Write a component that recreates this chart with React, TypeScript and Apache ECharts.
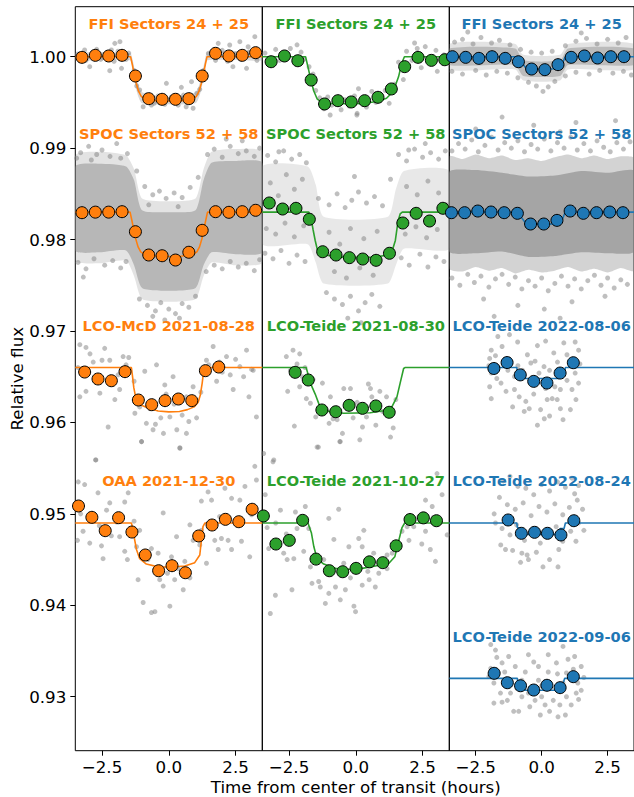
import React, { useEffect, useRef } from "react";
import * as echarts from "echarts";

// ---------------- colours ----------------
const ORANGE = "#ff7f0e";
const GREEN = "#2ca02c";
const BLUE = "#1f77b4";

// ---------------- axes ----------------
const yTicks = [0.93, 0.94, 0.95, 0.96, 0.97, 0.98, 0.99, 1.0];
const xTicks = [-2.5, 0, 2.5];
const yRange = [0.924095, 1.005469];
const xRange = [-3.5, 3.5];

// ---------------- titles ----------------
const titlesCol1 = ["FFI Sectors 24 + 25", "SPOC Sectors 52 + 58", "LCO-McD 2021-08-28", "OAA 2021-12-30"];
const titlesCol2 = ["FFI Sectors 24 + 25", "SPOC Sectors 52 + 58", "LCO-Teide 2021-08-30", "LCO-Teide 2021-10-27"];
const titlesCol3 = ["FFI Sectors 24 + 25", "SPOC Sectors 52 + 58", "LCO-Teide 2022-08-06", "LCO-Teide 2022-08-24", "LCO-Teide 2022-09-06"];
const titleFlux = [1.0036, 0.99158, 0.97058, 0.95366, 0.9366];

// ---------------- binned points ----------------
const orangeFfiBinned = [[-3.25,0.99993],[-2.75,1.00015],[-2.25,1.00008],[-1.75,1.00015],[-1.25,0.99789],[-0.75,0.99541],[-0.25,0.99534],[0.25,0.99534],[0.75,0.99541],[1.25,0.99789],[1.75,1.00037],[2.25,1.00008],[2.75,1.00015],[3.25,1.00044]];
const orangeSpocBinned = [[-3.25,0.98294],[-2.75,0.983],[-2.25,0.983],[-1.75,0.98305],[-1.25,0.98086],[-0.75,0.97831],[-0.25,0.97823],[0.25,0.97776],[0.75,0.97861],[1.25,0.98101],[1.75,0.98305],[2.25,0.98298],[2.75,0.98305],[3.25,0.9832]];
const orangeMcdBinned = [[-3.15,0.96551],[-2.65,0.96475],[-2.15,0.96456],[-1.64,0.96555],[-1.14,0.96245],[-0.64,0.96194],[-0.14,0.96238],[0.36,0.96256],[0.86,0.96238],[1.37,0.96566],[1.87,0.96606]];
const orangeOaaBinned = [[-3.38,0.95086],[-2.88,0.94962],[-2.38,0.94816],[-1.88,0.94958],[-1.38,0.94801],[-0.88,0.9455],[-0.38,0.94378],[0.12,0.94433],[0.62,0.94356],[1.12,0.94758],[1.62,0.94878],[2.12,0.9494],[2.62,0.94914],[3.12,0.9505]];

const greenFfiBinned = [[-3.17,0.99945],[-2.67,1.00008],[-2.17,0.99956],[-1.67,0.99745],[-1.17,0.99483],[-0.67,0.99519],[-0.17,0.99505],[0.33,0.99519],[0.83,0.99556],[1.33,0.99647],[1.83,0.99891],[2.33,0.99993],[2.83,0.9996],[3.33,0.99967]];
const greenSpocBinned = [[-3.24,0.984],[-2.74,0.98334],[-2.24,0.98342],[-1.74,0.98222],[-1.24,0.97867],[-0.74,0.97831],[-0.24,0.97802],[0.26,0.97787],[0.76,0.97773],[1.26,0.9785],[1.76,0.98181],[2.26,0.98287],[2.76,0.98203],[3.26,0.98342]];
const greenTeide1Binned = [[-2.27,0.96548],[-1.78,0.96464],[-1.27,0.96136],[-0.75,0.96117],[-0.25,0.96187],[0.25,0.96154],[0.75,0.9618],[1.25,0.96111]];
const greenTeide2Binned = [[-3.46,0.94977],[-2.99,0.9467],[-2.49,0.9471],[-1.99,0.94929],[-1.49,0.94505],[-0.99,0.94378],[-0.49,0.94367],[0.01,0.94404],[0.51,0.94475],[1.01,0.94466],[1.51,0.9465],[2.03,0.94938],[2.53,0.94956],[3.02,0.94925]];

const blueFfiBinned = [[-3.38,1.0],[-2.88,0.99993],[-2.38,0.99982],[-1.88,1.0],[-1.38,0.99982],[-0.88,0.99945],[-0.38,0.99865],[0.12,0.99858],[0.62,0.99913],[1.12,0.99993],[1.62,1.00008],[2.12,0.99986],[2.62,1.0],[3.12,1.0]];
const blueSpocBinned = [[-3.42,0.98294],[-2.92,0.98294],[-2.42,0.98312],[-1.92,0.98301],[-1.42,0.98294],[-0.92,0.98287],[-0.42,0.9817],[0.08,0.9817],[0.58,0.9821],[1.08,0.98312],[1.58,0.98287],[2.08,0.98294],[2.58,0.98301],[3.08,0.98294]];
const blueTeide1Binned = [[-1.81,0.9659],[-1.31,0.96655],[-0.81,0.9652],[-0.3,0.96449],[0.2,0.96431],[0.7,0.9654],[1.2,0.96653]];
const blueTeide2Binned = [[-1.27,0.94933],[-0.77,0.94787],[-0.27,0.94798],[0.22,0.94787],[0.73,0.94769],[1.22,0.94925]];
const blueTeide3Binned = [[-1.8,0.93256],[-1.3,0.93153],[-0.8,0.9312],[-0.3,0.93073],[0.2,0.93125],[0.7,0.93099],[1.2,0.93219]];

// ---------------- transit models ----------------
const orangeFfiModel = [[-3.5,1.0],[-1.43,1.0],[-1.37,0.9992],[-1.3,0.9982],[-1.22,0.9971],[-1.13,0.9962],[-1.03,0.99565],[-0.9,0.99535],[-0.5,0.9952],[0,0.99515],[0.5,0.9952],[0.9,0.99535],[1.03,0.99565],[1.13,0.9962],[1.22,0.9971],[1.3,0.9982],[1.37,0.9992],[1.43,1.0],[3.5,1.0]];
const orangeSpocModel = [[-3.5,0.983],[-1.45,0.983],[-1.39,0.9822],[-1.32,0.9812],[-1.24,0.9801],[-1.15,0.9792],[-1.05,0.97865],[-0.9,0.97835],[-0.5,0.9782],[0,0.97815],[0.5,0.9782],[0.9,0.97835],[1.05,0.97865],[1.15,0.9792],[1.24,0.9801],[1.32,0.9812],[1.39,0.9822],[1.45,0.983],[3.5,0.983]];
const orangeMcdModel = [[-3.5,0.966],[-1.4,0.966],[-1.36,0.9651],[-1.31,0.9638],[-1.25,0.9629],[-1.15,0.9622],[-1.0,0.96185],[-0.8,0.9616],[-0.4,0.96125],[0,0.96115],[0.4,0.9612],[0.7,0.9614],[0.95,0.9617],[1.1,0.9622],[1.18,0.963],[1.25,0.9643],[1.3,0.9655],[1.34,0.966],[3.5,0.966]];
const orangeOaaModel = [[-3.5,0.949],[-1.4,0.949],[-1.35,0.9484],[-1.3,0.9475],[-1.21,0.9461],[-1.09,0.9451],[-0.84,0.94451],[-0.4,0.9442],[0.1,0.94418],[0.6,0.9443],[0.97,0.94466],[1.16,0.9455],[1.22,0.9471],[1.28,0.9486],[1.35,0.949],[3.5,0.949]];

const greenFfiModel = [[-3.5,1.0],[-1.88,1.0],[-1.8,0.999],[-1.7,0.9977],[-1.58,0.9963],[-1.45,0.9954],[-1.3,0.99505],[-1.0,0.9949],[-0.2,0.99485],[0.3,0.9949],[0.8,0.9951],[1.15,0.99545],[1.4,0.9962],[1.6,0.9978],[1.72,0.9993],[1.82,1.0],[3.5,1.0]];
const greenSpocModel = [[-3.5,0.983],[-1.76,0.983],[-1.68,0.9824],[-1.6,0.9811],[-1.52,0.9799],[-1.44,0.9789],[-1.3,0.97835],[-0.4,0.97805],[0.6,0.97805],[1.1,0.97825],[1.35,0.97865],[1.48,0.9799],[1.58,0.982],[1.66,0.9828],[1.74,0.983],[3.5,0.983]];
const greenTeide1Model = [[-3.5,0.966],[-1.86,0.966],[-1.78,0.9652],[-1.7,0.9643],[-1.52,0.9631],[-1.34,0.9617],[-1.0,0.9612],[-0.46,0.961],[0.54,0.96105],[1.03,0.96128],[1.35,0.9617],[1.54,0.9628],[1.66,0.9643],[1.79,0.9659],[1.84,0.966],[3.5,0.966]];
const greenTeide2Model = [[-3.5,0.949],[-1.79,0.949],[-1.72,0.9484],[-1.66,0.9479],[-1.57,0.9464],[-1.45,0.9451],[-1.2,0.94451],[-0.76,0.94404],[-0.26,0.94394],[0.24,0.94404],[0.73,0.9443],[1.24,0.94459],[1.46,0.9453],[1.61,0.9471],[1.73,0.9485],[1.83,0.949],[3.5,0.949]];

const blueFfiModel = [[-3.5,1.0],[-0.95,1.0],[-0.85,0.9998],[-0.75,0.99935],[-0.62,0.99885],[-0.5,0.99868],[0,0.99862],[0.55,0.99868],[0.7,0.9989],[0.8,0.99935],[0.88,0.9999],[0.92,1.0],[3.5,1.0]];
const blueSpocModel = [[-3.5,0.983],[-0.95,0.983],[-0.85,0.9828],[-0.75,0.98235],[-0.62,0.98185],[-0.5,0.98172],[0,0.98168],[0.55,0.98172],[0.7,0.9819],[0.8,0.98235],[0.88,0.9829],[0.92,0.983],[3.5,0.983]];
const blueTeide1Model = [[-3.5,0.966],[-0.94,0.966],[-0.92,0.9655],[-0.78,0.9654],[-0.62,0.9648],[0.65,0.9648],[0.7,0.9654],[0.85,0.9654],[0.9,0.966],[3.5,0.966]];
const blueTeide2Model = [[-3.5,0.949],[-0.94,0.949],[-0.92,0.9485],[-0.78,0.9484],[-0.62,0.94775],[0.65,0.94775],[0.7,0.9484],[0.85,0.9484],[0.9,0.949],[3.5,0.949]];
const blueTeide3Model = [[-3.5,0.932],[-0.92,0.932],[-0.9,0.93145],[-0.7,0.93145],[-0.64,0.9307],[0.55,0.9307],[0.62,0.9313],[0.8,0.9313],[0.87,0.932],[3.5,0.932]];

// ---------------- dense clouds of raw points: [time, lower, upper] envelopes ----------------
const orangeFfiCloud = [[-3.5,0.9996,1.0004],[-1.45,0.9996,1.0004],[-1.35,0.9985,0.9996],[-1.2,0.9962,0.9976],[-1.0,0.9949,0.9961],[0,0.9948,0.9956],[1.0,0.9949,0.9961],[1.2,0.9962,0.9976],[1.35,0.9985,0.9996],[1.45,0.9996,1.0005],[3.5,0.9996,1.0005]];
const orangeSpocCore = [[-3.5,0.9788,0.988],[-2.6,0.9786,0.9883],[-1.6,0.9788,0.988],[-1.3,0.9772,0.9865],[-1.0,0.9747,0.9832],[0,0.9744,0.983],[1.0,0.9747,0.9832],[1.3,0.9772,0.9865],[1.6,0.9786,0.9884],[2.5,0.9784,0.9886],[3.5,0.9786,0.9884]];
const orangeSpocHalo = [[-3.5,0.9777,0.9892],[-2.6,0.9774,0.9896],[-1.6,0.9777,0.9892],[-1.3,0.976,0.9877],[-1.0,0.9735,0.9845],[0,0.9732,0.9842],[1.0,0.9735,0.9845],[1.3,0.976,0.9877],[1.6,0.9775,0.9896],[2.5,0.9772,0.9899],[3.5,0.9775,0.9896]];
const greenSpocCloud = [[-3.5,0.9795,0.988],[-1.8,0.9795,0.988],[-1.5,0.9775,0.986],[-1.2,0.9752,0.9825],[1.2,0.9752,0.9825],[1.5,0.9772,0.9855],[1.8,0.979,0.9875],[3.5,0.979,0.9875]];
const blueFfiCore = [[-3.5,0.9991,1.0009],[-1.0,0.9991,1.0009],[-0.7,0.9979,0.9996],[0.7,0.9979,0.9996],[1.0,0.9991,1.0009],[3.5,0.9991,1.0009]];
const blueFfiHalo = [[-3.5,0.9986,1.0014],[-1.0,0.9986,1.0014],[-0.7,0.9974,1.0002],[0.7,0.9974,1.0002],[1.0,0.9986,1.0014],[3.5,0.9986,1.0014]];
const blueSpocCore = [[-3.5,0.9787,0.9874],[-2.5,0.9785,0.9876],[-1.5,0.9787,0.9873],[-0.5,0.9781,0.9869],[0.5,0.9782,0.987],[1.5,0.9786,0.9875],[2.5,0.9785,0.9873],[3.5,0.9787,0.9875]];
const blueSpocHalo = [[-3.5,0.9768,0.9891],[-3.0,0.9765,0.9888],[-2.5,0.977,0.9893],[-2.0,0.9766,0.9889],[-1.5,0.9769,0.9892],[-1.0,0.9763,0.9887],[-0.5,0.9767,0.9889],[0,0.9764,0.9886],[0.5,0.9766,0.989],[1.0,0.977,0.9893],[1.5,0.9765,0.9889],[2.0,0.9768,0.9892],[2.5,0.9764,0.9888],[3.0,0.9769,0.9891],[3.5,0.9766,0.9889]];

// ---------------- scattered raw points ----------------
const orangeFfiRaw = [[-1.83,1.00164],[-2.02,1.00146],[-2.15,1.00073],[-2.7,1.0008],[-3.15,1.00073],[-2.21,0.99847],[-1.77,0.99873],[-2.96,0.99891],[3.22,1.00219],[2.66,1.00164],[1.85,1.00146],[2.28,1.00128],[2.97,1.00109],[1.48,1.00037],[2.91,0.99873],[2.4,0.99891],[0.85,0.99727],[-0.96,0.99453],[0.91,0.99436],[0.65,0.99453],[-0.65,0.99472],[-0.09,0.99709],[0.47,0.99665],[-1.09,0.99636],[1.16,0.99643],[-3.4,1.0003],[-3.1,0.9996],[-2.85,1.0005],[-2.55,0.9997],[-2.35,1.0004],[-2.05,0.9995],[-1.9,1.0006],[-1.6,0.9997],[-1.5,1.0004],[-1.3,0.9985],[-1.2,0.9968],[-0.85,0.9958],[-0.55,0.9949],[-0.4,0.9957],[-0.15,0.9948],[0.1,0.9956],[0.35,0.9947],[0.55,0.9958],[0.8,0.995],[1.05,0.996],[1.3,0.9985],[1.6,1.0004],[1.75,0.9996],[2.0,1.0007],[2.2,0.9995],[2.5,1.0003],[2.7,0.9997],[3.0,1.0005],[3.3,0.9996]];
const orangeSpocRaw = [[-3.3,0.9895],[-3.0,0.9902],[-2.7,0.9893],[-2.5,0.9898],[-2.2,0.9891],[-1.95,0.9905],[-1.8,0.9889],[-1.55,0.9894],[-3.45,0.9889],[-2.9,0.9887],[-1.2,0.9875],[-0.9,0.9858],[-0.6,0.9849],[-0.35,0.9853],[-0.1,0.9845],[0.2,0.9851],[0.5,0.9846],[0.8,0.9857],[1.1,0.9868],[-0.75,0.9838],[0.35,0.9836],[1.45,0.9893],[1.7,0.9899],[2.0,0.989],[2.3,0.9902],[2.6,0.9894],[2.9,0.9897],[3.2,0.9891],[3.4,0.99],[2.15,0.991],[2.75,0.9908],[-3.4,0.9775],[-3.1,0.9768],[-2.8,0.9779],[-2.4,0.9772],[-2.1,0.9777],[-1.8,0.9769],[-1.6,0.9776],[-3.2,0.9759],[-1.1,0.9735],[-0.8,0.9728],[-0.5,0.9722],[-0.3,0.9731],[0,0.9724],[0.25,0.9719],[0.5,0.973],[0.75,0.9726],[1.0,0.9738],[-0.15,0.9712],[0.4,0.9714],[-0.6,0.9716],[1.4,0.9765],[1.7,0.9772],[2.0,0.9768],[2.3,0.9776],[2.6,0.977],[2.9,0.9774],[3.2,0.9766],[3.4,0.9778]];
const orangeMcdRaw = [[-3.33,0.9685],[-3.1,0.9682],[-3.33,0.9628],[-3.1,0.9634],[-2.83,0.9666],[-2.58,0.9632],[-2.4,0.9681],[-2.27,0.9595],[-2.73,0.9559],[-2.21,0.9668],[-2.02,0.9625],[-1.84,0.9636],[-1.71,0.9672],[-1.27,0.961],[-1.09,0.9617],[-1.02,0.9579],[-0.84,0.9599],[-0.59,0.9592],[-0.46,0.9663],[-0.15,0.9641],[0.16,0.965],[0.04,0.9606],[0.41,0.9572],[0.66,0.9628],[0.66,0.9588],[1.04,0.9605],[0.91,0.9639],[1.41,0.9668],[1.66,0.9683],[1.79,0.9645],[2.16,0.9672],[2.41,0.9636],[2.66,0.9661],[2.91,0.9679],[3.16,0.9657],[3.28,0.9606],[3.0,0.9628],[1.3,0.9655],[-0.9,0.9656],[-3.0,0.9655],[-2.5,0.9668],[-1.9,0.9652],[-1.6,0.9663],[-1.3,0.9645],[-0.7,0.9615],[-0.3,0.9605],[0.2,0.962],[0.5,0.9608],[0.9,0.9624],[1.5,0.9663],[2.0,0.9655],[2.5,0.9669],[3.1,0.9658],[-2.2,0.9645],[2.8,0.965],[-0.1,0.9631],[0.3,0.9592],[-0.5,0.9598],[-3.4,0.966],[-2.95,0.9675],[-1.5,0.9671],[1.9,0.9666],[2.3,0.9652],[-0.2,0.9588],[0.75,0.9601],[1.2,0.9633]];
const orangeOaaRaw = [[-1.02,0.9579],[0.42,0.9572],[-2.74,0.9559],[-3.39,0.9535],[-3.15,0.9532],[-2.65,0.9523],[-2.21,0.9512],[-2.33,0.9504],[-1.65,0.9513],[-1.52,0.9523],[-3.21,0.9481],[-2.96,0.9468],[-2.52,0.9465],[-2.15,0.9476],[-1.84,0.9475],[-3.42,0.9471],[-2.46,0.9451],[-1.65,0.9459],[-1.55,0.945],[-1.09,0.9482],[-1.21,0.9464],[-0.78,0.945],[-0.52,0.9439],[-1.15,0.9428],[-0.34,0.9428],[-0.21,0.9421],[-0.52,0.9393],[-0.65,0.9392],[-0.96,0.9403],[0.04,0.9399],[0.54,0.9417],[0.79,0.943],[0.22,0.9428],[-0.21,0.9501],[-0.4,0.9457],[0.1,0.9453],[0.29,0.9475],[0.79,0.9488],[0.91,0.9471],[1.16,0.9466],[1.41,0.9446],[1.22,0.9514],[1.47,0.9524],[1.6,0.9515],[1.72,0.9471],[1.97,0.9473],[2.22,0.9471],[2.35,0.9517],[2.66,0.9515],[2.85,0.953],[3.22,0.9552],[3.03,0.9453],[2.72,0.947],[3.28,0.9537],[1.85,0.9461],[2.35,0.9461],[1.22,0.9482],[2.1,0.9528],[-2.9,0.9495],[-2.6,0.9487],[-1.95,0.9491],[-1.3,0.9492],[-0.65,0.9462],[0.6,0.9448],[1.9,0.9497],[2.5,0.9492],[3.1,0.9499],[-3.3,0.95],[-0.05,0.9435],[0.35,0.944]];

const greenFfiRaw = [[-3.4,1.0004],[-3.2,0.9993],[-3.0,1.0008],[-2.85,0.9996],[-2.6,1.0002],[-2.45,1.0009],[-2.3,0.9994],[-2.05,1.0005],[-1.95,0.9997],[-1.75,0.9989],[-1.6,0.9981],[-1.5,0.9963],[-1.35,0.9955],[-1.2,0.9943],[-1.05,0.9956],[-0.9,0.9947],[-0.7,0.9955],[-0.55,0.9942],[-0.4,0.9953],[-0.25,0.9946],[-0.05,0.9957],[0.1,0.9965],[0.05,0.9938],[0.25,0.9952],[0.4,0.9945],[0.6,0.9962],[0.75,0.995],[0.95,0.9958],[1.1,0.9963],[1.25,0.9949],[1.45,0.997],[1.6,0.9994],[1.78,0.9975],[1.9,1.0006],[2.1,0.9996],[2.3,1.0009],[2.45,0.9988],[2.6,1.0011],[2.8,0.9998],[3.0,1.0007],[3.05,0.9984],[3.3,1.0002],[2.2,1.0015],[-2.2,1.0013],[-0.96,0.99362],[0.04,0.99362]];
const greenSpocRaw = [[-3.3,0.9892],[-3.0,0.9885],[-2.7,0.9897],[-2.4,0.9888],[-2.1,0.9893],[-1.85,0.9884],[-3.4,0.9785],[-3.1,0.9779],[-2.8,0.9788],[-2.5,0.9774],[-2.2,0.9783],[-1.9,0.9776],[-1.4,0.9845],[-1.0,0.9838],[-0.7,0.985],[-0.4,0.9835],[-0.15,0.9843],[0.1,0.9852],[0.4,0.984],[0.7,0.9847],[1.0,0.9837],[1.3,0.9866],[-1.1,0.9742],[-0.8,0.9735],[-0.5,0.9729],[-0.2,0.9738],[0.1,0.9722],[0.35,0.9731],[0.6,0.974],[0.9,0.9727],[-0.3,0.9714],[0.2,0.9709],[1.6,0.9893],[1.9,0.9886],[2.2,0.9899],[2.5,0.989],[2.8,0.9895],[3.1,0.9888],[3.35,0.9897],[1.7,0.978],[2.0,0.9772],[2.4,0.9784],[2.7,0.977],[3.0,0.9781],[3.3,0.9776],[2.6,0.9905],[-0.05,0.9869],[-2.88,0.9896],[1.98,0.9898],[-3.2,0.9862],[-2.9,0.9848],[-2.6,0.9871],[-2.3,0.9855],[-2.0,0.9866],[-3.35,0.9812],[-3.0,0.9806],[-2.65,0.9818],[-2.3,0.9803],[-1.95,0.9815],[-1.0,0.9808],[-0.6,0.9795],[-0.2,0.9812],[0.3,0.9801],[0.8,0.9809],[-0.8,0.9765],[-0.35,0.9758],[0.15,0.9769],[0.65,0.9761],[1.9,0.9858],[2.3,0.9849],[2.7,0.9864],[3.1,0.9851],[1.85,0.9806],[2.25,0.9814],[2.65,0.9802],[3.05,0.9811],[3.4,0.9838]];
const greenTeide1Raw = [[-2.6,0.9672],[-2.45,0.9657],[-2.35,0.9679],[-2.2,0.9664],[-2.1,0.9675],[-2.0,0.965],[-1.9,0.966],[-2.55,0.9634],[-2.1,0.9639],[-1.85,0.9626],[-1.7,0.9621],[-1.6,0.9647],[-1.5,0.9606],[-1.4,0.9573],[-1.25,0.9643],[-1.1,0.9614],[-0.95,0.9628],[-0.85,0.9604],[-0.7,0.9603],[-0.6,0.9579],[-0.5,0.9588],[-0.35,0.9617],[-0.2,0.9637],[-0.1,0.9605],[0.05,0.9622],[0.15,0.9581],[0.3,0.9612],[0.4,0.9606],[0.47,0.9642],[0.6,0.9628],[0.75,0.9597],[0.9,0.9634],[1.0,0.9612],[1.15,0.9628],[1.3,0.9584],[1.4,0.9594],[1.5,0.9625],[-3.45,0.9566],[-3.1,0.9557],[-2.3,0.9596],[-0.45,0.9637],[0.55,0.9637],[-1.0,0.9599],[0.25,0.9595]];
const greenTeide2Raw = [[-1.45,0.9573],[-0.58,0.9579],[-3.07,0.9559],[-3.39,0.9521],[-1.89,0.9508],[-2.26,0.9502],[-2.82,0.9504],[-0.64,0.9505],[-3.32,0.9485],[-3.26,0.9462],[-2.7,0.9457],[-2.57,0.945],[-2.32,0.9451],[-2.2,0.9484],[-1.95,0.9459],[-1.76,0.9484],[-1.01,0.9495],[-0.82,0.9472],[-3.01,0.9411],[-3.2,0.9391],[-2.39,0.9417],[-1.64,0.9424],[-1.33,0.942],[-1.14,0.9402],[-1.01,0.9413],[-0.76,0.942],[-0.58,0.9406],[-0.39,0.9417],[-0.07,0.9399],[-0.01,0.9393],[-0.26,0.9464],[0.24,0.9464],[0.11,0.9473],[0.3,0.9482],[0.67,0.9457],[0.24,0.9422],[0.73,0.942],[0.86,0.9435],[1.17,0.944],[1.17,0.9455],[1.36,0.9457],[1.73,0.9481],[1.92,0.9486],[1.99,0.9471],[2.17,0.9486],[2.36,0.9497],[2.61,0.9515],[2.86,0.9508],[3.04,0.9544],[3.23,0.9521],[2.61,0.9481],[2.79,0.9461],[2.98,0.9448],[2.47,0.9467],[3.42,0.9477],[2.9,0.9496],[-1.39,0.9426],[-3.0,0.949],[-2.6,0.9478],[-1.2,0.945],[-0.9,0.9436],[-0.45,0.9446],[0.45,0.9437],[0.95,0.9448],[1.5,0.9463],[-1.7,0.9442],[-0.2,0.943],[0.5,0.9428]];

const blueFfiRaw = [[-3.3,1.0016],[-3.0,1.0019],[-2.6,1.0014],[-2.3,1.0021],[-1.9,1.0015],[-1.6,1.0018],[-1.2,1.0013],[-0.8,1.0008],[-0.4,1.0005],[0,1.0004],[0.4,1.0006],[0.9,1.0012],[1.3,1.0017],[1.7,1.002],[2.1,1.0014],[2.5,1.0019],[2.9,1.0015],[3.2,1.0021],[-2.8,1.0027],[1.5,1.0026],[-3.4,0.9984],[-3.0,0.9981],[-2.5,0.9985],[-2.1,0.998],[-1.7,0.9984],[-1.3,0.9982],[-0.9,0.9977],[-0.5,0.9972],[-0.2,0.9968],[0.25,0.9967],[0.5,0.9973],[0.9,0.9979],[1.3,0.9983],[1.8,0.9981],[2.2,0.9985],[2.7,0.9982],[3.1,0.9984],[3.4,0.998],[0.05,0.9962]];
const blueSpocRaw = [[-3.4,0.9897],[-3.15,0.9905],[-2.9,0.9899],[-2.65,0.9909],[-2.4,0.9896],[-2.15,0.9903],[-1.9,0.9912],[-1.65,0.9898],[-1.4,0.9906],[-1.15,0.99],[-0.9,0.9908],[-0.65,0.9896],[-0.4,0.9904],[-0.15,0.9899],[0.1,0.991],[0.35,0.9897],[0.6,0.9906],[0.85,0.99],[1.1,0.9912],[1.35,0.9898],[1.6,0.9905],[1.85,0.9897],[2.1,0.9908],[2.35,0.9901],[2.6,0.9896],[2.85,0.9906],[3.1,0.9899],[3.35,0.9907],[-2.5,0.9921],[-0.3,0.9925],[1.3,0.9928],[2.8,0.993],[-1.5,0.9934],[0.7,0.9918],[-3.4,0.9758],[-3.1,0.975],[-2.8,0.9762],[-2.55,0.9753],[-2.3,0.976],[-2.0,0.9748],[-1.75,0.9757],[-1.5,0.9762],[-1.25,0.9751],[-1.0,0.9759],[-0.75,0.9746],[-0.5,0.9755],[-0.25,0.9749],[0,0.9758],[0.25,0.9744],[0.5,0.9752],[0.75,0.976],[1.0,0.9749],[1.25,0.9757],[1.5,0.9746],[1.75,0.9755],[2.0,0.9761],[2.25,0.975],[2.5,0.9758],[2.75,0.9747],[3.0,0.9756],[3.25,0.9751],[-2.2,0.9735],[-0.9,0.9728],[0.1,0.9724],[1.15,0.9732],[-1.8,0.9716],[0.7,0.9714],[2.4,0.9738]];
const blueTeide1Raw = [[-1.66,0.9694],[-1.22,0.9696],[-0.91,0.9688],[-0.16,0.9684],[0.15,0.9689],[0.84,0.9687],[1.27,0.9688],[-1.91,0.9679],[-1.5,0.9683],[-1.97,0.967],[-1.75,0.9673],[-0.54,0.9674],[0.46,0.9676],[0.96,0.9674],[1.4,0.9679],[-1.91,0.9654],[-1.97,0.9639],[-1.54,0.9643],[-1.35,0.9634],[-1.03,0.9636],[-0.85,0.9628],[-0.6,0.9623],[-0.47,0.9615],[-0.16,0.9597],[-0.04,0.9614],[0.21,0.9625],[0.4,0.9626],[0.59,0.9625],[0.71,0.9615],[0.81,0.9603],[1.09,0.9614],[1.4,0.9643],[1.27,0.9654],[-1.91,0.9626],[-1.03,0.965],[-0.41,0.9665],[0.09,0.9661],[0.3,0.9657],[0.96,0.9646],[-0.72,0.9657],[-0.1,0.9654],[0.71,0.9636],[-1.66,0.9661],[-0.41,0.9643],[0.15,0.9637],[-1.28,0.9657],[1.15,0.9636],[-1.1,0.9617],[-0.66,0.9612],[-2.0,0.9662],[-1.45,0.9666],[-0.25,0.9667],[0.6,0.9666],[1.45,0.9664],[-0.9,0.9662],[-1.7,0.9648],[1.3,0.9625],[0.3,0.9607],[-0.3,0.9631],[0.1,0.9604],[0.5,0.9639]];
const blueTeide2Raw = [[-1.45,0.9536],[-1.2,0.9541],[-0.9,0.953],[-0.6,0.9528],[-0.3,0.9521],[0.0,0.9532],[0.3,0.9525],[0.6,0.9535],[0.9,0.9529],[1.15,0.9539],[1.4,0.9531],[1.25,0.9522],[-1.6,0.9518],[-1.3,0.951],[-1.0,0.9505],[-0.7,0.9512],[-0.4,0.9498],[-0.1,0.9508],[0.2,0.9502],[0.5,0.9511],[0.8,0.9499],[1.05,0.9507],[1.35,0.9515],[1.55,0.9505],[-1.8,0.95],[-1.75,0.949],[-1.5,0.9484],[-1.2,0.9477],[-0.95,0.9488],[-0.65,0.9471],[-0.35,0.948],[-0.05,0.9468],[0.25,0.9476],[0.55,0.9486],[0.8,0.947],[1.1,0.9481],[1.4,0.949],[1.6,0.9482],[-1.55,0.9466],[-1.1,0.946],[-0.55,0.9455],[-0.2,0.9458],[0.3,0.945],[0.65,0.9461],[1.3,0.947],[-0.8,0.9447],[0.05,0.9442],[-0.75,0.9457],[-0.5,0.945],[0.62,0.9442],[-1.37,0.9461]];
const blueTeide3Raw = [[-1.93,0.9357],[-1.75,0.9351],[-1.25,0.9344],[-0.5,0.9346],[0.25,0.9346],[0.81,0.9355],[1.25,0.9344],[1.2,0.933],[1.5,0.9333],[-1.93,0.9331],[-1.75,0.9322],[-1.5,0.9337],[-1.0,0.9333],[-0.62,0.9327],[-0.12,0.9333],[0.25,0.9327],[0.56,0.9337],[0.94,0.9326],[1.37,0.9315],[-1.81,0.9315],[-1.56,0.9304],[-1.81,0.9293],[-1.5,0.9294],[-1.18,0.9304],[-1.06,0.9284],[-0.87,0.9284],[-0.75,0.93],[-0.5,0.9304],[-0.25,0.9296],[0.0,0.93],[0.13,0.9291],[0.44,0.9296],[0.62,0.9278],[0.69,0.9291],[0.94,0.93],[1.12,0.9291],[1.31,0.9304],[1.5,0.9307],[-1.25,0.9318],[-0.75,0.9318],[-0.12,0.9318],[0.31,0.9315],[0.81,0.9315],[0.0,0.9312],[-0.93,0.9309],[-1.7,0.9343],[-1.4,0.9327],[-0.3,0.9338],[0.6,0.9325],[1.0,0.9341],[-0.45,0.9289],[0.3,0.9284],[1.4,0.9297],[-1.3,0.9296],[-0.05,0.928],[0.9,0.928],[-2.0,0.9322],[1.6,0.9321]];

// ---------------- layout ----------------
const W = 634;
const H = 797;
const GRID_LEFTS = [75.3, 262.3, 449.3];
const GRID_W = 187;
const GRID_TOP = 6.7;
const GRID_H = 744;
const FONT = '"DejaVu Sans", "Noto Sans", sans-serif';

const minusFmt = (v: number, d: number) => {
  const s = Math.abs(v) < 1e-9 ? (0).toFixed(d) : v.toFixed(d);
  return s.replace("-", "\u2212");
};

function bandSeries(grid: number, env: number[][], opacity: number) {
  return {
    type: "custom",
    xAxisIndex: grid,
    yAxisIndex: grid,
    silent: true,
    clip: true,
    z: 1,
    data: [[0, env[0][1]]],
    renderItem: (_p: any, api: any) => {
      const up = env.map((r) => api.coord([r[0], r[2]]));
      const lo = env.map((r) => api.coord([r[0], r[1]])).reverse();
      return {
        type: "polygon",
        shape: { points: up.concat(lo), smooth: 0.2 },
        style: { fill: "#808080", opacity },
      };
    },
  };
}

function rawSeries(grid: number, data: number[][]) {
  return {
    type: "scatter",
    xAxisIndex: grid,
    yAxisIndex: grid,
    silent: true,
    z: 2,
    symbolSize: 5,
    data,
    itemStyle: { color: "#808080", opacity: 0.5 },
  };
}

function modelSeries(grid: number, data: number[][], color: string) {
  return {
    type: "line",
    xAxisIndex: grid,
    yAxisIndex: grid,
    silent: true,
    z: 3,
    data,
    showSymbol: false,
    symbol: "none",
    lineStyle: { color, width: 1.6 },
  };
}

function binnedSeries(grid: number, data: number[][], color: string) {
  return {
    type: "scatter",
    xAxisIndex: grid,
    yAxisIndex: grid,
    silent: true,
    z: 4,
    symbolSize: 12,
    data,
    itemStyle: { color, borderColor: "#000", borderWidth: 1, opacity: 1 },
  };
}

export default function App() {
  const ref = useRef<HTMLDivElement>(null);

  useEffect(() => {
    if (!ref.current) return;
    const chart = echarts.init(ref.current, undefined, { renderer: "svg" });

    const grids = GRID_LEFTS.map((left) => ({
      left,
      top: GRID_TOP,
      width: GRID_W,
      height: GRID_H,
      show: true,
      borderColor: "#000",
      borderWidth: 1,
      backgroundColor: "transparent",
      containLabel: false,
    }));

    const xAxes = [0, 1, 2].map((g) => ({
      type: "value",
      gridIndex: g,
      min: xRange[0],
      max: xRange[1],
      position: "bottom",
      axisLine: { show: false, onZero: false },
      splitLine: { show: false },
      axisTick: { show: true, inside: false, length: 5, customValues: xTicks, lineStyle: { color: "#000", width: 1 } },
      axisLabel: {
        show: true,
        customValues: xTicks,
        formatter: (v: number) => minusFmt(v, 1),
        color: "#000",
        fontSize: 16.7,
        fontFamily: FONT,
        margin: 8,
      },
    }));

    const yAxes = [0, 1, 2].map((g) => ({
      type: "value",
      gridIndex: g,
      min: yRange[0],
      max: yRange[1],
      position: "left",
      axisLine: { show: false, onZero: false },
      splitLine: { show: false },
      axisTick: { show: g === 0, inside: false, length: 5, customValues: yTicks, lineStyle: { color: "#000", width: 1 } },
      axisLabel: {
        show: g === 0,
        customValues: yTicks,
        formatter: (v: number) => v.toFixed(2),
        color: "#000",
        fontSize: 16.7,
        fontFamily: FONT,
        margin: 9,
      },
    }));

    const series: any[] = [
      // column 1 (orange)
      bandSeries(0, orangeFfiCloud, 0.3),
      bandSeries(0, orangeSpocHalo, 0.22),
      bandSeries(0, orangeSpocCore, 0.45),
      rawSeries(0, orangeFfiRaw),
      rawSeries(0, orangeSpocRaw),
      rawSeries(0, orangeMcdRaw),
      rawSeries(0, orangeOaaRaw),
      modelSeries(0, orangeFfiModel, ORANGE),
      modelSeries(0, orangeSpocModel, ORANGE),
      modelSeries(0, orangeMcdModel, ORANGE),
      modelSeries(0, orangeOaaModel, ORANGE),
      binnedSeries(0, orangeFfiBinned, ORANGE),
      binnedSeries(0, orangeSpocBinned, ORANGE),
      binnedSeries(0, orangeMcdBinned, ORANGE),
      binnedSeries(0, orangeOaaBinned, ORANGE),
      // column 2 (green)
      bandSeries(1, greenSpocCloud, 0.18),
      rawSeries(1, greenFfiRaw),
      rawSeries(1, greenSpocRaw),
      rawSeries(1, greenTeide1Raw),
      rawSeries(1, greenTeide2Raw),
      modelSeries(1, greenFfiModel, GREEN),
      modelSeries(1, greenSpocModel, GREEN),
      modelSeries(1, greenTeide1Model, GREEN),
      modelSeries(1, greenTeide2Model, GREEN),
      binnedSeries(1, greenFfiBinned, GREEN),
      binnedSeries(1, greenSpocBinned, GREEN),
      binnedSeries(1, greenTeide1Binned, GREEN),
      binnedSeries(1, greenTeide2Binned, GREEN),
      // column 3 (blue)
      bandSeries(2, blueFfiHalo, 0.22),
      bandSeries(2, blueFfiCore, 0.4),
      bandSeries(2, blueSpocHalo, 0.35),
      bandSeries(2, blueSpocCore, 0.55),
      rawSeries(2, blueFfiRaw),
      rawSeries(2, blueSpocRaw),
      rawSeries(2, blueTeide1Raw),
      rawSeries(2, blueTeide2Raw),
      rawSeries(2, blueTeide3Raw),
      modelSeries(2, blueFfiModel, BLUE),
      modelSeries(2, blueSpocModel, BLUE),
      modelSeries(2, blueTeide1Model, BLUE),
      modelSeries(2, blueTeide2Model, BLUE),
      modelSeries(2, blueTeide3Model, BLUE),
      binnedSeries(2, blueFfiBinned, BLUE),
      binnedSeries(2, blueSpocBinned, BLUE),
      binnedSeries(2, blueTeide1Binned, BLUE),
      binnedSeries(2, blueTeide2Binned, BLUE),
      binnedSeries(2, blueTeide3Binned, BLUE),
    ];

    chart.setOption({
      animation: false,
      backgroundColor: "#fff",
      grid: grids,
      xAxis: xAxes,
      yAxis: yAxes,
      series,
    });

    const graphics: any[] = [];
    const cols = [
      { titles: titlesCol1, color: ORANGE },
      { titles: titlesCol2, color: GREEN },
      { titles: titlesCol3, color: BLUE },
    ];
    cols.forEach((c, gi) => {
      c.titles.forEach((t, ri) => {
        const p = chart.convertToPixel({ xAxisIndex: gi, yAxisIndex: gi } as any, [0, titleFlux[ri]]) as number[];
        graphics.push({
          type: "text",
          x: p[0],
          y: p[1],
          z: 10,
          style: {
            text: t,
            fill: c.color,
            fontSize: 14.6,
            fontWeight: "bold",
            fontFamily: FONT,
            align: "center",
            verticalAlign: "middle",
          },
        });
      });
    });
    graphics.push({
      type: "text",
      x: (GRID_LEFTS[0] + GRID_LEFTS[2] + GRID_W) / 2,
      y: 787,
      style: {
        text: "Time from center of transit (hours)",
        fill: "#000",
        fontSize: 16.7,
        fontFamily: FONT,
        align: "center",
        verticalAlign: "middle",
      },
    });
    graphics.push({
      type: "text",
      x: 17,
      y: GRID_TOP + GRID_H / 2,
      rotation: Math.PI / 2,
      style: {
        text: "Relative flux",
        fill: "#000",
        fontSize: 16.7,
        fontFamily: FONT,
        align: "center",
        verticalAlign: "middle",
      },
    });
    chart.setOption({ graphic: graphics });

    return () => chart.dispose();
  }, []);

  return (
    <div
      ref={ref}
      style={{ position: "absolute", left: 0, top: 0, width: W, height: H, background: "#fff" }}
    />
  );
}
